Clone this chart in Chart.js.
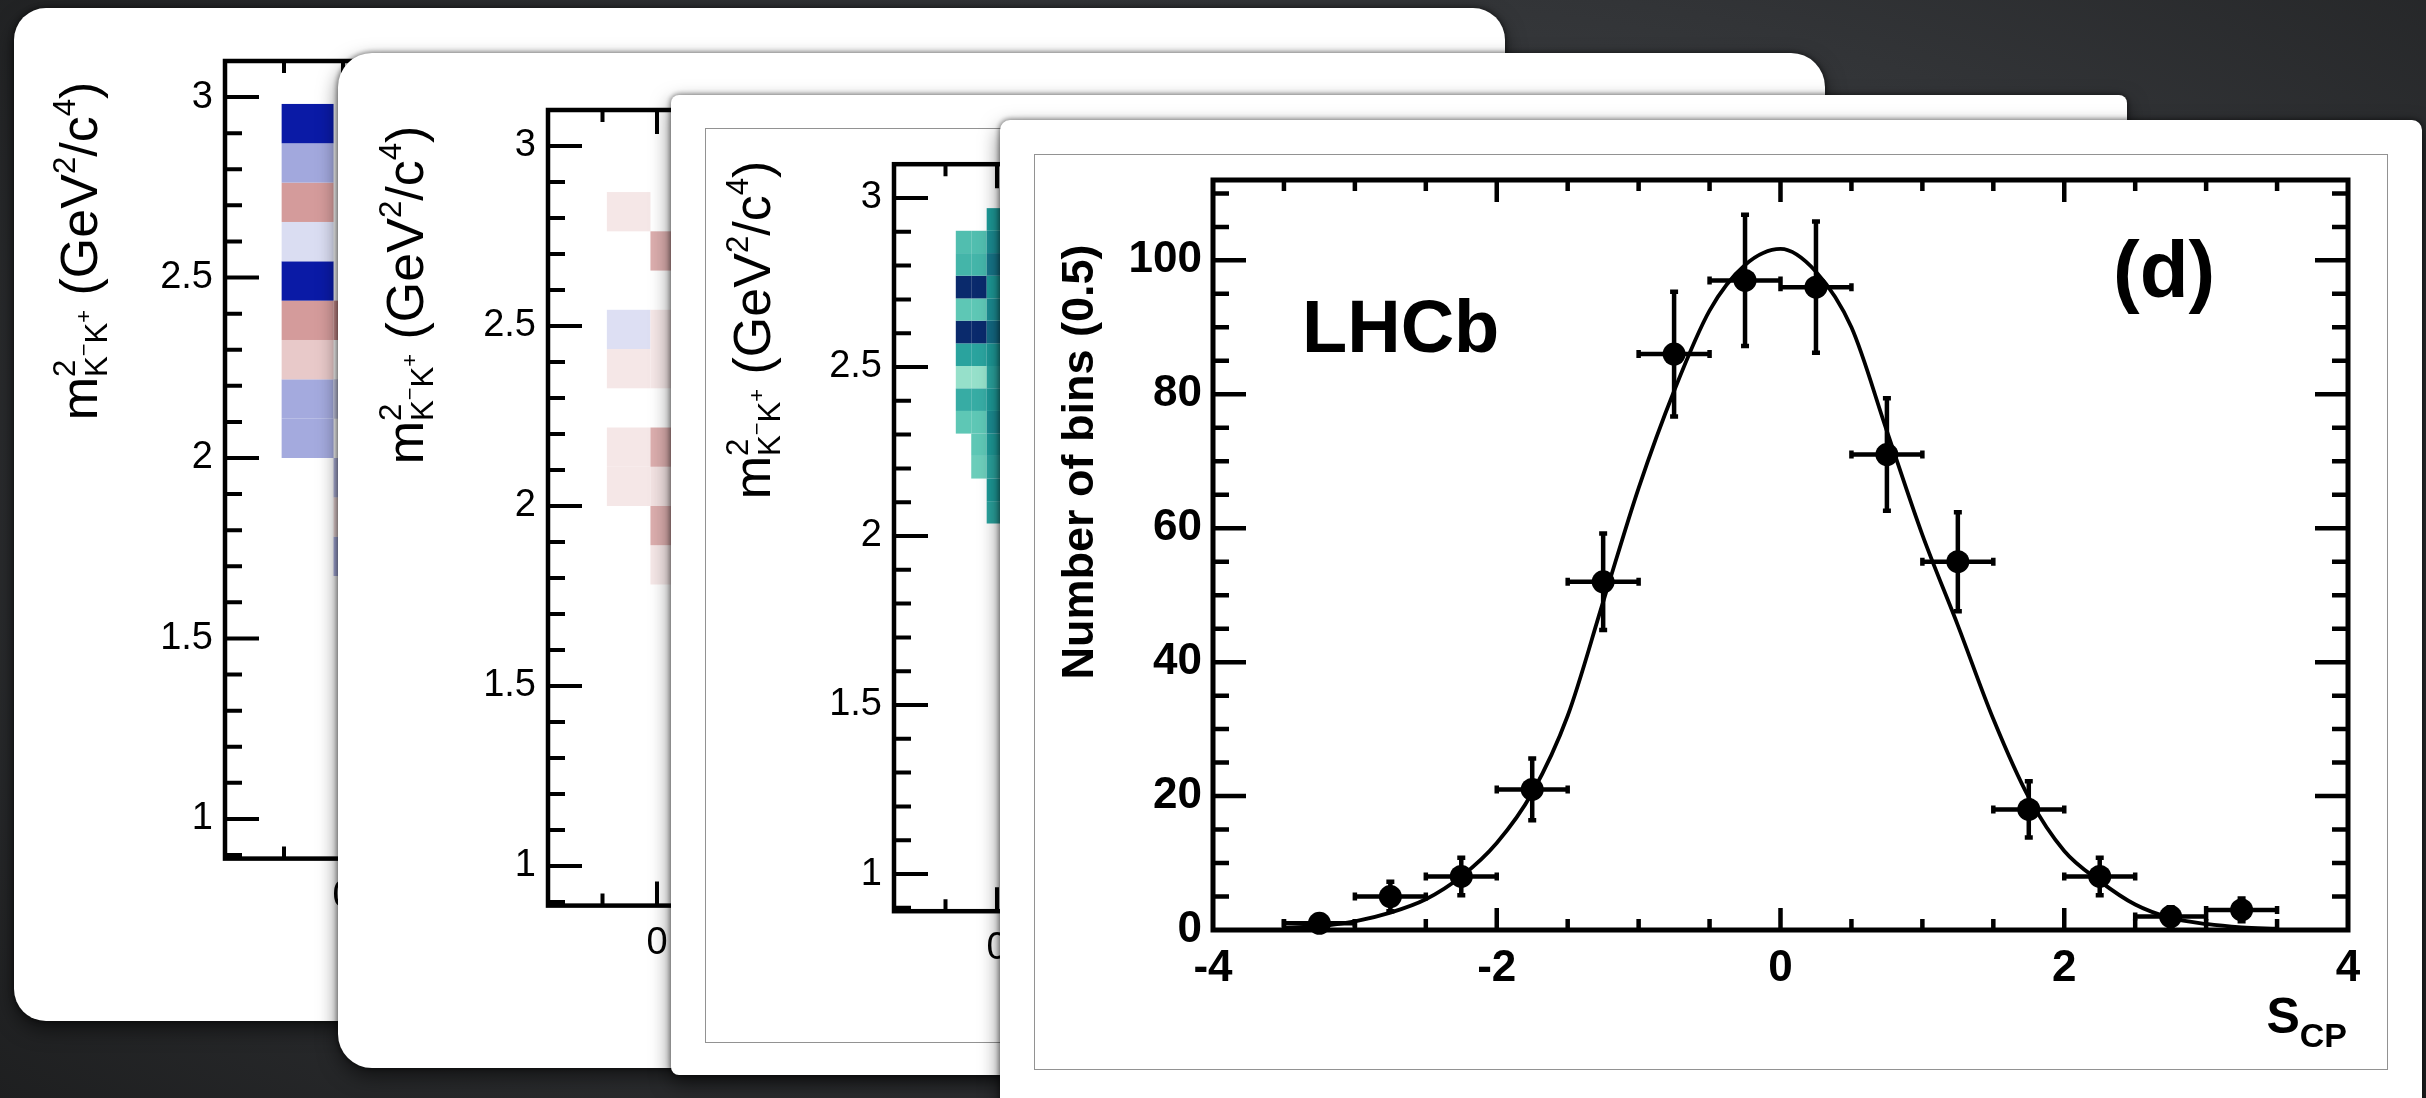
<!DOCTYPE html>
<html>
<head>
<meta charset="utf-8">
<title>LHCb S_CP distribution</title>
<script src="https://cdn.jsdelivr.net/npm/chart.js@4.4.1/dist/chart.umd.min.js"></script>
<style>
  html, body { margin: 0; padding: 0; }
  body {
    width: 2426px; height: 1098px; overflow: hidden; position: relative;
    background: radial-gradient(ellipse 75% 85% at 55% 45%, #484b4e 0%, #323437 55%, #1d1e1f 100%);
  }
  .card {
    position: absolute; background: #fff; overflow: hidden;
    box-shadow: 0 0 5px 1px rgba(0,0,0,0.45), 0 8px 20px rgba(0,0,0,0.55);
  }
  .card canvas { position: absolute; left: 0; top: 0; }
  .frame { position: absolute; border: 1.5px solid #929292; box-sizing: border-box; }
</style>
</head>
<body>
<div class="card" style="left:14px;top:8px;width:1491px;height:1013px;border-radius:32px;">
  <canvas id="chartA" width="1491" height="1013"></canvas>
</div>
<div class="card" style="left:338px;top:53px;width:1487px;height:1015px;border-radius:34px;">
  <canvas id="chartB" width="1487" height="1015"></canvas>
</div>
<div class="card" style="left:671px;top:95px;width:1456px;height:980px;border-radius:8px;">
  <div class="frame" style="left:34px;top:33px;width:1388px;height:915px;"></div>
  <canvas id="chartC" width="1456" height="980"></canvas>
</div>
<div class="card" style="left:1000px;top:120px;width:1422px;height:1000px;border-radius:10px;">
  <div class="frame" style="left:34px;top:34px;width:1354px;height:916px;"></div>
  <canvas id="chartD" width="1422" height="978"></canvas>
</div>

<script>
const FONT = '"Liberation Sans", Arial, Helvetica, sans-serif';

// ---- panel (d): S_CP per bin ----
const scpBinCentres = [-3.25, -2.75, -2.25, -1.75, -1.25, -0.75, -0.25, 0.25, 0.75, 1.25, 1.75, 2.25, 2.75, 3.25];
const scpCounts = [1, 5, 8, 21, 52, 86, 97, 96, 71, 55, 18, 8, 2, 3];
const scpErrors = [1.0, 2.2, 2.8, 4.6, 7.2, 9.3, 9.8, 9.8, 8.4, 7.4, 4.2, 2.8, 1.4, 1.7];
const scpBinHalfWidth = 0.25;
const fitCurveX = [-3.5, -3.25, -3, -2.75, -2.5, -2.25, -2, -1.75, -1.5, -1.25, -1, -0.75, -0.5, -0.25, 0,
                   0.25, 0.5, 0.75, 1, 1.25, 1.5, 1.75, 2, 2.25, 2.5, 2.75, 3, 3.25, 3.5];
const fitCurveY = [0.3, 0.6, 1.3, 2.6, 4.6, 8, 13, 20.5, 32, 49, 66, 80.5, 92.5, 99.3, 101.7,
                   98.3, 90, 74.5, 59, 45.5, 31.5, 19.8, 11.8, 7.3, 3.8, 1.8, 0.9, 0.4, 0.2];
const scpXTicks = [-4, -2, 0, 2, 4];
const scpYTicks = [0, 20, 40, 60, 80, 100];

// ---- background Dalitz panels (only a strip of each is visible) ----
const dalitzXTicks = [0, 1, 2, 3];
const dalitzYTicks = [1, 1.5, 2, 2.5, 3];

const panelAXEdges = [-0.26, -0.04, 0.18];
const panelAYEdges = [1.673, 1.782, 1.891, 2.0, 2.109, 2.218, 2.327, 2.436, 2.545, 2.654, 2.763, 2.872, 2.981];
const panelACol1 = [null, null, null, -0.37, -0.37, 0.22, 0.41, -1.0, -0.15, 0.41, -0.38, -1.0];
const panelACol2 = [-0.35, 0.15, -0.3, null, -0.2, null, 0.45, null, null, null, null, null];

const panelBXEdges = [-0.23, -0.03, 0.17];
const panelBYEdges = [1.782, 1.891, 2.0, 2.109, 2.218, 2.327, 2.436, 2.545, 2.654, 2.763, 2.872, 2.981];
const panelBCol1 = [null, null, 0.1, 0.1, null, 0.1, -0.14, null, null, 0.1, null];
const panelBCol2 = [0.1, 0.33, 0.12, 0.33, null, 0.1, 0.1, null, 0.33, null, null];

const panelCXEdges = [-0.2, -0.125, -0.05, 0.1];
const panelCYEdges = [2.037, 2.103, 2.17, 2.237, 2.303, 2.37, 2.437, 2.503, 2.57, 2.637, 2.703, 2.77, 2.837, 2.903, 2.97];
const panelCCol1 = [null, null, null, null, 0.3, 0.45, 0.1, 0.5, 1.0, 0.3, 1.0, 0.4, 0.35, null];
const panelCCol2 = [null, null, 0.25, 0.3, 0.3, 0.45, 0.1, 0.5, 1.0, 0.3, 1.0, 0.4, 0.35, null];
const panelCCol3 = [0.5, 0.55, 0.5, 0.55, 0.6, 0.55, 0.5, 0.55, 0.75, 0.6, 0.55, 0.7, 0.6, 0.55];

// colour maps
function mix(a, b, t) {
  return 'rgb(' + a.map((v, i) => Math.round(v + (b[i] - v) * t)).join(',') + ')';
}
const tealStops = [[0, [178, 236, 213]], [0.3, [94, 199, 181]], [0.55, [29, 154, 152]], [0.75, [19, 107, 134]], [1, [10, 42, 108]]];
const PALETTES = {
  redblue: z => z < 0 ? mix([255, 255, 255], [10, 26, 166], -z) : mix([255, 255, 255], [150, 10, 10], z),
  teal: z => {
    for (let i = 1; i < tealStops.length; i++) {
      if (z <= tealStops[i][0]) {
        const [z0, c0] = tealStops[i - 1], [z1, c1] = tealStops[i];
        return mix(c0, c1, (z - z0) / (z1 - z0));
      }
    }
    return mix(tealStops[4][1], tealStops[4][1], 0);
  }
};

function cellData(xEdges, yEdges, columns) {
  const out = [];
  columns.forEach((col, ci) => col.forEach((z, ri) => {
    if (z === null) return;
    out.push({ x: (xEdges[ci] + xEdges[ci + 1]) / 2, y: (yEdges[ri] + yEdges[ri + 1]) / 2,
               x0: xEdges[ci], x1: xEdges[ci + 1], y0: yEdges[ri], y1: yEdges[ri + 1], z });
  }));
  return out;
}

// ---- plugins ----
// ROOT style frame with inward ticks on all four sides
const rootAxes = {
  id: 'rootAxes',
  afterDatasetsDraw(chart, args, o) {
    const { ctx, chartArea: a, scales: { x, y } } = chart;
    ctx.save();
    ctx.strokeStyle = '#000';
    ctx.lineWidth = o.tickWidth;
    ctx.beginPath();
    const isMajor = (v, m) => Math.abs(v / m - Math.round(v / m)) < 1e-6;
    for (let k = Math.ceil(x.min / o.xMinor - 1e-6); k * o.xMinor < x.max - 1e-6; k++) {
      const v = k * o.xMinor;
      if (v <= x.min + 1e-6) continue;
      const len = isMajor(v, o.xMajor) ? o.xMajorLen : o.xMinorLen;
      const px = x.getPixelForValue(v);
      ctx.moveTo(px, a.bottom); ctx.lineTo(px, a.bottom - len);
      ctx.moveTo(px, a.top); ctx.lineTo(px, a.top + len);
    }
    for (let k = Math.ceil(y.min / o.yMinor - 1e-6); k * o.yMinor < y.max - 1e-6; k++) {
      const v = k * o.yMinor;
      if (v <= y.min + 1e-6) continue;
      const len = isMajor(v, o.yMajor) ? o.yMajorLen : o.yMinorLen;
      const py = y.getPixelForValue(v);
      ctx.moveTo(a.left, py); ctx.lineTo(a.left + len, py);
      ctx.moveTo(a.right, py); ctx.lineTo(a.right - len, py);
    }
    ctx.stroke();
    ctx.lineWidth = o.frameWidth;
    ctx.strokeRect(a.left, a.top, a.right - a.left, a.bottom - a.top);
    ctx.restore();
  }
};

// 2D histogram cells
const heatCells = {
  id: 'heatCells',
  beforeDatasetsDraw(chart, args, o) {
    const { ctx, chartArea: a, scales: { x, y } } = chart;
    const pal = PALETTES[o.palette];
    ctx.save();
    ctx.beginPath(); ctx.rect(a.left, a.top, a.right - a.left, a.bottom - a.top); ctx.clip();
    chart.data.datasets[0].data.forEach(c => {
      const x0 = x.getPixelForValue(c.x0), x1 = x.getPixelForValue(c.x1);
      const y0 = y.getPixelForValue(c.y0), y1 = y.getPixelForValue(c.y1);
      ctx.fillStyle = pal(c.z);
      ctx.fillRect(x0, y1, x1 - x0, y0 - y1);
    });
    ctx.restore();
  }
};

// rich text along a (possibly rotated) baseline
function drawRich(ctx, parts, cx, cy, rotate, align) {
  let u = 0;
  const placed = parts.map(p => {
    ctx.font = (p.bold ? 'bold ' : '') + p.f + 'px ' + FONT;
    const w = ctx.measureText(p.t).width;
    const at = u;
    if (!p.keep) u += w;
    return { p, at };
  });
  const total = u;
  const start = align === 'right' ? -total : align === 'left' ? 0 : -total / 2;
  ctx.save();
  ctx.translate(cx, cy);
  if (rotate) ctx.rotate(-Math.PI / 2);
  ctx.fillStyle = '#000';
  ctx.textAlign = 'left';
  ctx.textBaseline = 'alphabetic';
  placed.forEach(({ p, at }) => {
    ctx.font = (p.bold ? 'bold ' : '') + p.f + 'px ' + FONT;
    ctx.fillText(p.t, start + at, p.dy || 0);
  });
  ctx.restore();
}

const massTitle = {
  id: 'massTitle',
  afterDraw(chart, args, o) {
    const F = o.size, s = F * 0.6, t = F * 0.42;
    drawRich(chart.ctx, [
      { t: 'm', f: F },
      { t: '2', f: s, dy: -0.42 * F, keep: true },
      { t: 'K', f: s, dy: 0.2 * F },
      { t: '\u2212', f: t, dy: -0.12 * F },
      { t: 'K', f: s, dy: 0.2 * F },
      { t: '+', f: t, dy: -0.12 * F },
      { t: ' (GeV', f: F },
      { t: '2', f: s, dy: -0.42 * F },
      { t: '/c', f: F },
      { t: '4', f: s, dy: -0.42 * F },
      { t: ')', f: F }
    ], o.x, o.y, true, 'center');
  }
};

// error bars of panel (d)
const errorBars = {
  id: 'errorBars',
  afterDatasetsDraw(chart, args, o) {
    const { ctx, scales: { x, y } } = chart;
    ctx.save();
    ctx.strokeStyle = '#000';
    ctx.lineWidth = o.width;
    ctx.beginPath();
    chart.data.datasets[1].data.forEach(d => {
      const xl = x.getPixelForValue(d.x - d.xErr), xr = x.getPixelForValue(d.x + d.xErr);
      const yc = y.getPixelForValue(d.y), xc = x.getPixelForValue(d.x);
      const yt = y.getPixelForValue(d.y + d.yErr), yb = y.getPixelForValue(Math.max(d.y - d.yErr, 0));
      ctx.moveTo(xl, yc); ctx.lineTo(xr, yc);
      ctx.moveTo(xl, yc - o.cap); ctx.lineTo(xl, yc + o.cap);
      ctx.moveTo(xr, yc - o.cap); ctx.lineTo(xr, yc + o.cap);
      ctx.moveTo(xc, yt); ctx.lineTo(xc, yb);
      ctx.moveTo(xc - o.cap, yt); ctx.lineTo(xc + o.cap, yt);
      ctx.moveTo(xc - o.cap, yb); ctx.lineTo(xc + o.cap, yb);
    });
    ctx.stroke();
    ctx.restore();
  }
};

const scpText = {
  id: 'scpText',
  afterDraw(chart) {
    const ctx = chart.ctx;
    drawRich(ctx, [{ t: 'LHCb', f: 74, bold: true }], 302, 232, false, 'left');
    drawRich(ctx, [{ t: '(d)', f: 80, bold: true }], 1113, 177, false, 'left');
    drawRich(ctx, [{ t: 'S', f: 50, bold: true }, { t: 'CP', f: 34, bold: true, dy: 14 }], 1347, 913, false, 'right');
    drawRich(ctx, [{ t: 'Number of bins (0.5)', f: 45, bold: true }], 93, 342, true, 'center');
  }
};

// ---- charts ----
function dalitzChart(id, cfg) {
  return new Chart(document.getElementById(id), {
    type: 'scatter',
    data: { datasets: [{ data: cellData(cfg.xEdges, cfg.yEdges, cfg.columns), pointRadius: 0 }] },
    options: {
      responsive: false, animation: false, devicePixelRatio: 1, events: [],
      layout: { padding: { left: 0, top: cfg.top, right: cfg.right, bottom: 0 } },
      plugins: {
        legend: { display: false }, tooltip: { enabled: false },
        heatCells: { palette: cfg.palette },
        rootAxes: { frameWidth: 4.5, tickWidth: 4, xMinor: 0.25, xMajor: 1, xMinorLen: 12, xMajorLen: 24,
                    yMinor: 0.1, yMajor: 0.5, yMinorLen: 17, yMajorLen: 34 },
        massTitle: { x: cfg.titleX, y: cfg.titleY, size: 52 }
      },
      scales: {
        x: {
          type: 'linear', min: -0.5, max: 3.0,
          afterBuildTicks: s => { s.ticks = dalitzXTicks.map(v => ({ value: v })); },
          afterFit: s => { s.height = cfg.xAxisH; },
          grid: { display: false, drawTicks: false }, border: { display: false },
          ticks: { font: { family: FONT, size: 38 }, color: '#000', padding: 15, maxRotation: 0, autoSkip: false,
                   callback: v => String(v) }
        },
        y: {
          type: 'linear', min: 0.89, max: 3.1,
          afterBuildTicks: s => { s.ticks = dalitzYTicks.map(v => ({ value: v })); },
          afterFit: s => { s.width = cfg.yAxisW; },
          grid: { display: false, drawTicks: false }, border: { display: false },
          ticks: { font: { family: FONT, size: 38 }, color: '#000', padding: 12, autoSkip: false,
                   callback: v => String(v) }
        }
      }
    },
    plugins: [heatCells, rootAxes, massTitle]
  });
}

dalitzChart('chartA', { xEdges: panelAXEdges, yEdges: panelAYEdges, columns: [panelACol1, panelACol2],
  palette: 'redblue', top: 53, right: 454, yAxisW: 211, xAxisH: 162.4, titleX: 83, titleY: 243 });
dalitzChart('chartB', { xEdges: panelBXEdges, yEdges: panelBYEdges, columns: [panelBCol1, panelBCol2],
  palette: 'redblue', top: 57, right: 514, yAxisW: 210, xAxisH: 162.4, titleX: 85, titleY: 242 });
dalitzChart('chartC', { xEdges: panelCXEdges, yEdges: panelCYEdges, columns: [panelCCol1, panelCCol2, panelCCol3],
  palette: 'teal', top: 69.2, right: 512, yAxisW: 223, xAxisH: 163.8, titleX: 99, titleY: 235 });

new Chart(document.getElementById('chartD'), {
  type: 'scatter',
  data: {
    datasets: [
      {
        type: 'line', label: 'fit',
        data: fitCurveX.map((x, i) => ({ x, y: fitCurveY[i] })),
        borderColor: '#000', borderWidth: 3.8, pointRadius: 0, fill: false,
        cubicInterpolationMode: 'monotone', clip: false, order: 2
      },
      {
        type: 'scatter', label: 'data',
        data: scpBinCentres.map((x, i) => ({ x, y: scpCounts[i], xErr: scpBinHalfWidth, yErr: scpErrors[i] })),
        pointRadius: 11.5, pointHoverRadius: 11.5, backgroundColor: '#000', borderColor: '#000', borderWidth: 0,
        clip: false, order: 1
      }
    ]
  },
  options: {
    responsive: false, animation: false, devicePixelRatio: 1, events: [],
    layout: { padding: { left: 0, top: 60, right: 74, bottom: 0 } },
    plugins: {
      legend: { display: false }, tooltip: { enabled: false },
      errorBars: { width: 4.5, cap: 4 },
      rootAxes: { frameWidth: 5, tickWidth: 4.5, xMinor: 0.5, xMajor: 2, xMinorLen: 11, xMajorLen: 22,
                  yMinor: 5, yMajor: 20, yMinorLen: 16, yMajorLen: 33 }
    },
    scales: {
      x: {
        type: 'linear', min: -4, max: 4,
        afterBuildTicks: s => { s.ticks = scpXTicks.map(v => ({ value: v })); },
        afterFit: s => { s.height = 168; },
        grid: { display: false, drawTicks: false }, border: { display: false },
        ticks: { font: { family: FONT, size: 44, weight: 'bold' }, color: '#000', padding: 12, maxRotation: 0, autoSkip: false }
      },
      y: {
        type: 'linear', min: 0, max: 112,
        afterBuildTicks: s => { s.ticks = scpYTicks.map(v => ({ value: v })); },
        afterFit: s => { s.width = 213; },
        grid: { display: false, drawTicks: false }, border: { display: false },
        ticks: { font: { family: FONT, size: 44, weight: 'bold' }, color: '#000', padding: 11, autoSkip: false }
      }
    }
  },
  plugins: [errorBars, rootAxes, scpText]
});
</script>
</body>
</html>
